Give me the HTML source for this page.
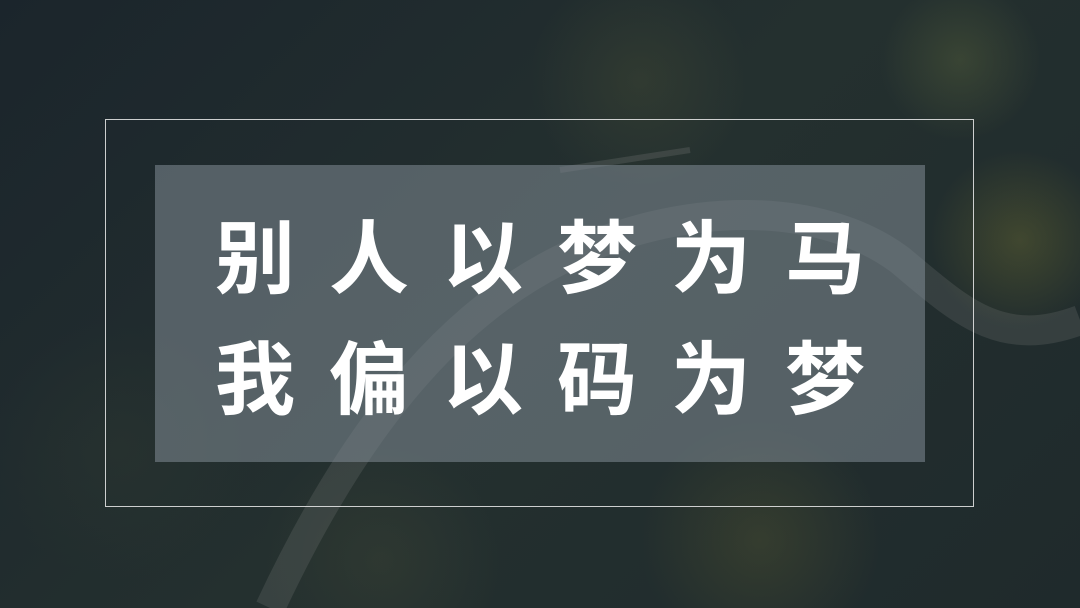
<!DOCTYPE html>
<html>
<head>
<meta charset="utf-8">
<style>
html,body{margin:0;padding:0;}
body{width:1080px;height:608px;overflow:hidden;position:relative;
background:#1e282e;font-family:"Liberation Sans","Noto Sans CJK SC",sans-serif;}
.bg{position:absolute;inset:0;
background:
radial-gradient(circle at 960px 60px,rgba(90,100,60,.4),transparent 80px),
radial-gradient(circle at 1020px 240px,rgba(110,110,50,.4),transparent 90px),
radial-gradient(circle at 640px 80px,rgba(80,85,55,.3),transparent 110px),
radial-gradient(circle at 760px 540px,rgba(90,90,50,.35),transparent 120px),
radial-gradient(circle at 120px 450px,rgba(50,60,50,.3),transparent 130px),
radial-gradient(circle at 380px 560px,rgba(70,75,55,.3),transparent 120px),
linear-gradient(135deg,#1b252c,#24302f 50%,#1f2a2c);}
svg.road{position:absolute;left:0;top:0;}
.frame{position:absolute;left:105px;top:119px;width:869px;height:388px;border:1px solid rgba(235,235,235,.85);box-sizing:border-box;}
.panel{position:absolute;left:155px;top:165px;width:770px;height:297px;background:rgba(130,140,150,.55);}
.line{position:absolute;left:155px;width:770px;text-align:center;color:#fff;font-weight:bold;
font-size:80px;letter-spacing:34px;text-indent:34px;line-height:1;}
</style>
</head>
<body>
<div class="bg"></div>
<svg class="road" width="1080" height="608">
<path d="M270 608 C330 480 420 330 560 260 C680 200 820 200 900 260 C960 310 1000 350 1080 320" fill="none" stroke="rgba(150,150,150,.18)" stroke-width="30"/>
<path d="M560 170 L690 150" fill="none" stroke="rgba(150,150,150,.2)" stroke-width="6"/>
</svg>
<div class="frame"></div>
<div class="panel"></div>
<div class="line" style="top:220px">别人以梦为马</div>
<div class="line" style="top:341px">我偏以码为梦</div>
</body>
</html>
